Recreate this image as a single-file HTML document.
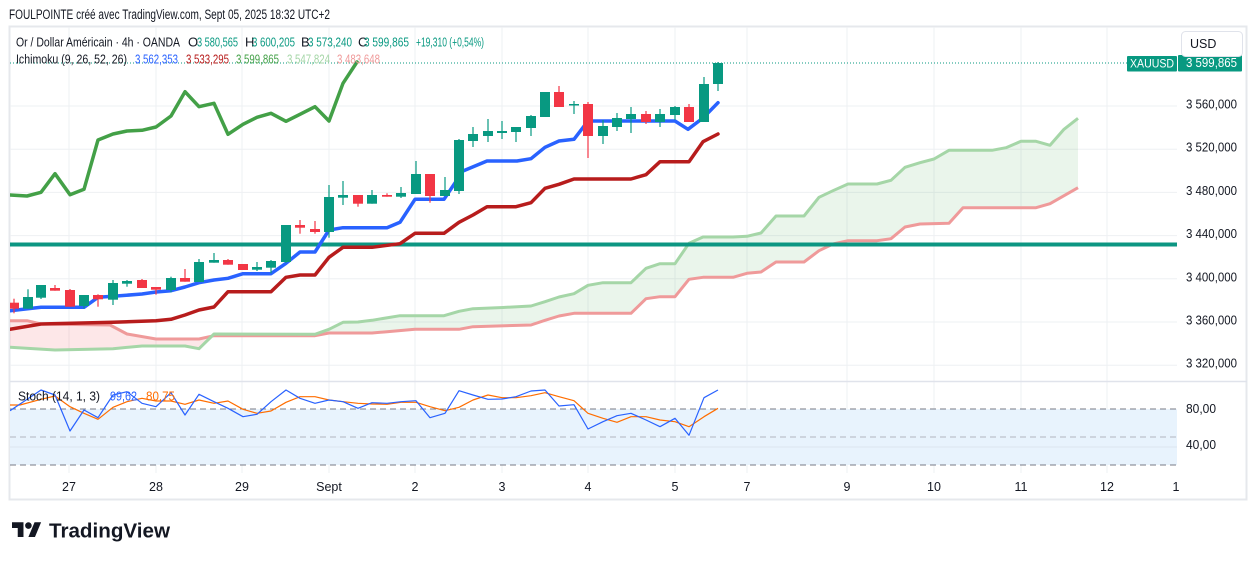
<!DOCTYPE html>
<html>
<head>
<meta charset="utf-8">
<style>
  html,body{margin:0;padding:0;background:#ffffff;}
  svg{display:block;}
  text{font-family:"Liberation Sans", Arial, sans-serif;}
</style>
</head>
<body>
<svg width="1257" height="561" viewBox="0 0 1257 561" xmlns="http://www.w3.org/2000/svg">
  <defs>
    <clipPath id="mainclip"><rect x="10" y="27" width="1167" height="354"/></clipPath>
    <clipPath id="stochclip"><rect x="10" y="382" width="1167" height="91"/></clipPath>
  </defs>
  <rect x="0" y="0" width="1257" height="561" fill="#ffffff"/>

  <!-- title -->
  <text x="9" y="19" font-size="13.5" fill="#131722" textLength="321" lengthAdjust="spacingAndGlyphs">FOULPOINTE créé avec TradingView.com, Sept 05, 2025 18:32 UTC+2</text>

  <!-- frame -->
  <rect x="9.5" y="26.5" width="1237" height="473" fill="none" stroke="#e6e8ec" stroke-width="2"/>

  <!-- vertical grid -->
  <g stroke="#eef0f3" stroke-width="1">
    <line x1="69" y1="27" x2="69" y2="473"/>
    <line x1="156" y1="27" x2="156" y2="473"/>
    <line x1="242" y1="27" x2="242" y2="473"/>
    <line x1="329" y1="27" x2="329" y2="473"/>
    <line x1="415" y1="27" x2="415" y2="473"/>
    <line x1="502" y1="27" x2="502" y2="473"/>
    <line x1="588" y1="27" x2="588" y2="473"/>
    <line x1="675" y1="27" x2="675" y2="473"/>
    <line x1="747" y1="27" x2="747" y2="473"/>
    <line x1="847" y1="27" x2="847" y2="473"/>
    <line x1="934" y1="27" x2="934" y2="473"/>
    <line x1="1021" y1="27" x2="1021" y2="473"/>
    <line x1="1107" y1="27" x2="1107" y2="473"/>
  </g>
  <!-- horizontal grid main -->
  <g stroke="#eef0f3" stroke-width="1">
    <line x1="10" y1="106" x2="1177" y2="106"/>
    <line x1="10" y1="149.2" x2="1177" y2="149.2"/>
    <line x1="10" y1="192.4" x2="1177" y2="192.4"/>
    <line x1="10" y1="235.6" x2="1177" y2="235.6"/>
    <line x1="10" y1="278.8" x2="1177" y2="278.8"/>
    <line x1="10" y1="322" x2="1177" y2="322"/>
    <line x1="10" y1="365.2" x2="1177" y2="365.2"/>
  </g>

  <!-- pane separator -->
  <line x1="10" y1="381.5" x2="1247" y2="381.5" stroke="#e0e3eb" stroke-width="1.5"/>

  <!-- MAIN PANE -->
  <g clip-path="url(#mainclip)">
    <polygon fill="rgba(242,54,69,0.12)" points="10,347.3 55,350 113,348.7 142,346 185,346 199,348.7 212,336 199,339 156,339 127,334 110,325 41,324 27,320.7 10,320.7"/>
    <polygon fill="rgba(67,160,71,0.11)" points="212,336 214,334 315,334.3 329,329.3 343,322.3 358,322 372,320.3 400,315.7 444,315.7 459,311.3 473,308.7 503,307.5 531,306 545,301.7 559,297 574,293.7 588,285.3 603,282.7 631,282.7 646,268.3 660,263.7 675,263.7 689,243.3 703,237 733,237 747,236.3 761,233 776,216 804,216 819,197.3 833,190.7 848,184 877,184 891,180.3 905,167.3 920,162.7 934,159 949,150.3 992,150.3 1006,147.7 1021,141.3 1036,141.3 1050,145.3 1064,129.3 1078,118.3 1078,187.7 1050,203.7 1036,207.7 963,207.7 949,223.3 920,224 905,227 891,238.7 877,240.7 848,240.7 833,244 819,250.7 804,262 776,262 761,272 747,273.3 733,277.3 703,277.3 689,279.3 675,296.7 660,296.7 646,298.7 631,313.3 574,313.3 559,316 545,320.3 531,325 473,326.7 459,329.3 415,329.3 387,331.7 372,333 329,333 315,335.7 214,335.7 212,336"/>
    <polyline fill="none" stroke="#ef9a9a" stroke-width="3" stroke-linejoin="round" points="10,320.7 27,320.7 41,324 110,325 127,334 156,339 199,339 214,335.7 315,335.7 329,333 372,333 387,331.7 415,329.3 459,329.3 473,326.7 531,325 545,320.3 559,316 574,313.3 631,313.3 646,298.7 660,296.7 675,296.7 689,279.3 703,277.3 733,277.3 747,273.3 761,272 776,262 804,262 819,250.7 833,244 848,240.7 877,240.7 891,238.7 905,227 920,224 949,223.3 963,207.7 1036,207.7 1050,203.7 1078,187.7"/>
    <polyline fill="none" stroke="#a5d6a7" stroke-width="3" stroke-linejoin="round" points="10,347.3 55,350 113,348.7 142,346 185,346 199,348.7 214,334 315,334.3 329,329.3 343,322.3 358,322 372,320.3 400,315.7 444,315.7 459,311.3 473,308.7 503,307.5 531,306 545,301.7 559,297 574,293.7 588,285.3 603,282.7 631,282.7 646,268.3 660,263.7 675,263.7 689,243.3 703,237 733,237 747,236.3 761,233 776,216 804,216 819,197.3 833,190.7 848,184 877,184 891,180.3 905,167.3 920,162.7 934,159 949,150.3 992,150.3 1006,147.7 1021,141.3 1036,141.3 1050,145.3 1064,129.3 1078,118.3"/>

    <line x1="10" y1="244.5" x2="1177" y2="244.5" stroke="#0c9682" stroke-width="4"/>

    <polyline fill="none" stroke="#b71c1c" stroke-width="3.5" stroke-linejoin="round" stroke-linecap="round" points="10,329.3 41,324 113,322.3 156,320.7 171,319.3 185,315 199,310 214,307 228,291.7 271,291.7 286,277.3 300,275 315,275 329,257.3 343,247.3 372,247.3 400,243.7 415,233.3 444,233.3 459,222.3 473,215 487,206.7 516,206.7 531,202.7 545,188.3 559,184.3 574,179 631,179 646,174.7 660,161.7 689,161.7 703,141.7 718,134"/>
    <polyline fill="none" stroke="#2962ff" stroke-width="3.5" stroke-linejoin="round" stroke-linecap="round" points="10,310.7 41,307.3 84,307.3 98,297.3 113,296.3 142,294 156,292 171,290.7 185,287 199,282.7 214,280 228,278.3 243,273.7 271,273.7 286,263.3 300,252 315,252 329,230 343,227.7 387,227.7 400,222.3 415,199.3 444,199.3 463,171 487,161 517,161 531,158.7 545,147.3 559,141 574,139.3 588,121 675,121 688,129.3 703,118 718,102.7"/>
    <polyline fill="none" stroke="#43a047" stroke-width="3.5" stroke-linejoin="round" stroke-linecap="round" points="10,195 27,196 41,192.3 55,173.7 70,194.7 84,189.3 98,140 113,134 127,131 142,130.3 156,127 171,116 185,91.7 199,106.7 214,103.3 228,134.3 243,124.3 257,117.3 271,113.3 286,121.3 300,114.3 315,106.7 329,121 343,83.3 357,62"/>

    <line x1="10" y1="63" x2="1127" y2="63" stroke="#089981" stroke-width="1" stroke-dasharray="1,2"/>

    <g stroke-width="1.2">
      <line x1="14" y1="298.7" x2="14" y2="313.3" stroke="#f23645"/>
      <line x1="28" y1="289.3" x2="28" y2="308.7" stroke="#089981"/>
      <line x1="41" y1="285" x2="41" y2="299" stroke="#089981"/>
      <line x1="55" y1="285" x2="55" y2="290.7" stroke="#f23645"/>
      <line x1="70" y1="289" x2="70" y2="306.7" stroke="#f23645"/>
      <line x1="84" y1="295" x2="84" y2="308.3" stroke="#089981"/>
      <line x1="98" y1="294.3" x2="98" y2="306.7" stroke="#f23645"/>
      <line x1="113" y1="280" x2="113" y2="305" stroke="#089981"/>
      <line x1="127" y1="280" x2="127" y2="286.7" stroke="#089981"/>
      <line x1="142" y1="279" x2="142" y2="288" stroke="#f23645"/>
      <line x1="156" y1="287" x2="156" y2="294.7" stroke="#f23645"/>
      <line x1="171" y1="276.7" x2="171" y2="292.3" stroke="#089981"/>
      <line x1="185" y1="269" x2="185" y2="281.7" stroke="#f23645"/>
      <line x1="199" y1="259" x2="199" y2="282" stroke="#089981"/>
      <line x1="214" y1="253" x2="214" y2="262.7" stroke="#089981"/>
      <line x1="228" y1="259" x2="228" y2="264.7" stroke="#f23645"/>
      <line x1="243" y1="264" x2="243" y2="270" stroke="#f23645"/>
      <line x1="257" y1="262" x2="257" y2="271" stroke="#089981"/>
      <line x1="271" y1="260" x2="271" y2="273.3" stroke="#089981"/>
      <line x1="286" y1="225" x2="286" y2="263" stroke="#089981"/>
      <line x1="300" y1="220" x2="300" y2="233.7" stroke="#f23645"/>
      <line x1="315" y1="221" x2="315" y2="233.7" stroke="#f23645"/>
      <line x1="329" y1="185" x2="329" y2="237.7" stroke="#089981"/>
      <line x1="343" y1="181" x2="343" y2="205" stroke="#089981"/>
      <line x1="358" y1="195" x2="358" y2="206.7" stroke="#f23645"/>
      <line x1="372" y1="190" x2="372" y2="203.7" stroke="#089981"/>
      <line x1="387" y1="193.3" x2="387" y2="196.7" stroke="#f23645"/>
      <line x1="401" y1="187" x2="401" y2="198" stroke="#089981"/>
      <line x1="416" y1="161" x2="416" y2="194" stroke="#089981"/>
      <line x1="430" y1="174" x2="430" y2="202.7" stroke="#f23645"/>
      <line x1="445" y1="177" x2="445" y2="196" stroke="#089981"/>
      <line x1="459" y1="139" x2="459" y2="194" stroke="#089981"/>
      <line x1="473" y1="127" x2="473" y2="147" stroke="#089981"/>
      <line x1="488" y1="119" x2="488" y2="142" stroke="#089981"/>
      <line x1="502" y1="121" x2="502" y2="139" stroke="#089981"/>
      <line x1="516" y1="127" x2="516" y2="142" stroke="#089981"/>
      <line x1="531" y1="115" x2="531" y2="136" stroke="#089981"/>
      <line x1="545" y1="92" x2="545" y2="117" stroke="#089981"/>
      <line x1="559" y1="86" x2="559" y2="107" stroke="#f23645"/>
      <line x1="574" y1="101" x2="574" y2="114" stroke="#089981"/>
      <line x1="588" y1="102" x2="588" y2="158" stroke="#f23645"/>
      <line x1="603" y1="120" x2="603" y2="144" stroke="#089981"/>
      <line x1="617" y1="113" x2="617" y2="131" stroke="#089981"/>
      <line x1="631" y1="107" x2="631" y2="133" stroke="#089981"/>
      <line x1="646" y1="111" x2="646" y2="124" stroke="#f23645"/>
      <line x1="660" y1="109" x2="660" y2="127" stroke="#089981"/>
      <line x1="675" y1="106" x2="675" y2="120" stroke="#089981"/>
      <line x1="689" y1="104" x2="689" y2="122" stroke="#f23645"/>
      <line x1="704" y1="77" x2="704" y2="122" stroke="#089981"/>
      <line x1="718" y1="62" x2="718" y2="91" stroke="#089981"/>
    </g>
    <g>
      <rect x="9" y="302.7" width="10" height="6" fill="#f23645"/>
      <rect x="23" y="297" width="10" height="11.7" fill="#089981"/>
      <rect x="36" y="285" width="10" height="12.7" fill="#089981"/>
      <rect x="50" y="288" width="10" height="2.7" fill="#f23645"/>
      <rect x="65" y="290" width="10" height="16.7" fill="#f23645"/>
      <rect x="79" y="295" width="10" height="11" fill="#089981"/>
      <rect x="93" y="295" width="10" height="4.3" fill="#f23645"/>
      <rect x="108" y="283" width="10" height="16.7" fill="#089981"/>
      <rect x="122" y="281" width="10" height="2.7" fill="#089981"/>
      <rect x="137" y="280" width="10" height="8" fill="#f23645"/>
      <rect x="151" y="287" width="10" height="2.7" fill="#f23645"/>
      <rect x="166" y="278" width="10" height="12" fill="#089981"/>
      <rect x="180" y="278" width="10" height="3.7" fill="#f23645"/>
      <rect x="194" y="262" width="10" height="20" fill="#089981"/>
      <rect x="209" y="260" width="10" height="2.7" fill="#089981"/>
      <rect x="223" y="260" width="10" height="4.7" fill="#f23645"/>
      <rect x="238" y="264" width="10" height="6" fill="#f23645"/>
      <rect x="252" y="267" width="10" height="2.7" fill="#089981"/>
      <rect x="266" y="261" width="10" height="6.7" fill="#089981"/>
      <rect x="281" y="225" width="10" height="37" fill="#089981"/>
      <rect x="295" y="225" width="10" height="2.7" fill="#f23645"/>
      <rect x="310" y="229" width="10" height="3" fill="#f23645"/>
      <rect x="324" y="197" width="10" height="35" fill="#089981"/>
      <rect x="338" y="195" width="10" height="2.7" fill="#089981"/>
      <rect x="353" y="195" width="10" height="8.7" fill="#f23645"/>
      <rect x="367" y="195" width="10" height="8.7" fill="#089981"/>
      <rect x="382" y="195" width="10" height="1.7" fill="#f23645"/>
      <rect x="396" y="193" width="10" height="3.7" fill="#089981"/>
      <rect x="411" y="174" width="10" height="20" fill="#089981"/>
      <rect x="425" y="174" width="10" height="22" fill="#f23645"/>
      <rect x="440" y="190" width="10" height="6" fill="#089981"/>
      <rect x="454" y="140" width="10" height="51" fill="#089981"/>
      <rect x="468" y="134" width="10" height="7" fill="#089981"/>
      <rect x="483" y="131" width="10" height="5" fill="#089981"/>
      <rect x="497" y="131" width="10" height="2" fill="#089981"/>
      <rect x="511" y="127" width="10" height="5" fill="#089981"/>
      <rect x="526" y="116" width="10" height="12" fill="#089981"/>
      <rect x="540" y="92" width="10" height="25" fill="#089981"/>
      <rect x="554" y="92" width="10" height="15" fill="#f23645"/>
      <rect x="569" y="104" width="10" height="1.5" fill="#089981"/>
      <rect x="583" y="104" width="10" height="32" fill="#f23645"/>
      <rect x="598" y="126" width="10" height="10" fill="#089981"/>
      <rect x="612" y="118" width="10" height="9" fill="#089981"/>
      <rect x="626" y="114" width="10" height="5" fill="#089981"/>
      <rect x="641" y="114" width="10" height="8" fill="#f23645"/>
      <rect x="655" y="114" width="10" height="8" fill="#089981"/>
      <rect x="670" y="107" width="10" height="8" fill="#089981"/>
      <rect x="684" y="107" width="10" height="15" fill="#f23645"/>
      <rect x="699" y="84" width="10" height="38" fill="#089981"/>
      <rect x="713" y="63" width="10" height="21" fill="#089981"/>
    </g>
  </g>

  <!-- legend -->
  <g font-size="13">
    <text x="16" y="46.5" fill="#131722" textLength="164" lengthAdjust="spacingAndGlyphs">Or / Dollar Américain · 4h · OANDA</text>
    <text x="188" y="46.5" fill="#131722">O</text>
    <text x="197" y="46.5" fill="#089981" textLength="41" lengthAdjust="spacingAndGlyphs">3 580,565</text>
    <text x="245" y="46.5" fill="#131722">H</text>
    <text x="252" y="46.5" fill="#089981" textLength="43" lengthAdjust="spacingAndGlyphs">3 600,205</text>
    <text x="301" y="46.5" fill="#131722">B</text>
    <text x="308" y="46.5" fill="#089981" textLength="44" lengthAdjust="spacingAndGlyphs">3 573,240</text>
    <text x="358" y="46.5" fill="#131722">C</text>
    <text x="364" y="46.5" fill="#089981" textLength="45" lengthAdjust="spacingAndGlyphs">3 599,865</text>
    <text x="416" y="46.5" fill="#089981" textLength="68" lengthAdjust="spacingAndGlyphs">+19,310 (+0,54%)</text>

    <text x="16" y="63.5" fill="#131722" textLength="111" lengthAdjust="spacingAndGlyphs">Ichimoku (9, 26, 52, 26)</text>
    <text x="135" y="63.5" fill="#2962ff" textLength="43" lengthAdjust="spacingAndGlyphs">3 562,353</text>
    <text x="186" y="63.5" fill="#b71c1c" textLength="43" lengthAdjust="spacingAndGlyphs">3 533,295</text>
    <text x="236" y="63.5" fill="#43a047" textLength="43" lengthAdjust="spacingAndGlyphs">3 599,865</text>
    <text x="287" y="63.5" fill="#a5d6a7" textLength="43" lengthAdjust="spacingAndGlyphs">3 547,824</text>
    <text x="337" y="63.5" fill="#ef9a9a" textLength="43" lengthAdjust="spacingAndGlyphs">3 483,648</text>
  </g>

  <!-- STOCH PANE -->
  <rect x="10" y="409" width="1167" height="56" fill="#e8f3fd"/>
  <line x1="10" y1="447" x2="1177" y2="447" stroke="#dde6ef" stroke-width="1"/>
  <line x1="10" y1="409" x2="1177" y2="409" stroke="#787b86" stroke-width="1" stroke-dasharray="6,4"/>
  <line x1="10" y1="437" x2="1177" y2="437" stroke="#b2b5be" stroke-width="1" stroke-dasharray="6,4"/>
  <line x1="10" y1="465" x2="1177" y2="465" stroke="#787b86" stroke-width="1" stroke-dasharray="6,4"/>
  <g clip-path="url(#stochclip)">
    <polyline fill="none" stroke="#ff6d00" stroke-width="1.2" stroke-linejoin="round" points="10,405 20,405 41,399.3 55,396 70,406.7 84,413.3 98,419.3 113,407.3 127,401.7 142,398.3 156,401 171,401 185,404.3 199,400 214,403.3 228,401 243,409.3 257,413.3 271,411 286,402.3 300,396.7 315,396.7 329,400 343,401.7 358,403.3 372,404 387,404.3 401,402.3 416,402.3 430,406.7 445,410.7 459,407.3 473,400 488,395 502,397.7 516,397.7 531,395.7 545,392.7 559,396.7 574,400.7 588,413.3 603,418.3 617,422.3 631,416.7 646,416.7 660,420 675,421.7 689,426.7 704,416.7 718,408.3"/>
    <polyline fill="none" stroke="#2962ff" stroke-width="1.2" stroke-linejoin="round" points="10,410.7 41,390 55,395 70,431 84,410 98,417.7 113,395 127,391.7 142,403.3 156,406.7 171,392.7 185,415 199,394.3 214,401.7 228,408.3 243,416.7 257,414.3 271,401.7 286,390 300,398.3 315,403.3 329,400 343,401.7 358,408.3 372,402.7 387,403.3 401,401.7 416,400.7 430,417.7 445,413.3 459,390.7 473,395 488,399.3 502,399 516,396.7 531,391 545,390 559,406 574,404.7 588,429 603,421.7 617,415.7 631,413.3 646,420 660,426.7 675,418.3 689,435.3 704,397.7 718,390"/>
  </g>
  <g font-size="13">
    <text x="18" y="400.5" fill="#131722" textLength="82" lengthAdjust="spacingAndGlyphs">Stoch (14, 1, 3)</text>
    <text x="110" y="400.5" fill="#2962ff" textLength="27" lengthAdjust="spacingAndGlyphs">99,62</text>
    <text x="146" y="400.5" fill="#ff6d00" textLength="29" lengthAdjust="spacingAndGlyphs">80,75</text>
  </g>

  <!-- price axis labels -->
  <g font-size="12.5" fill="#131722">
    <text x="1186" y="108.5" textLength="51" lengthAdjust="spacingAndGlyphs">3 560,000</text>
    <text x="1186" y="151.7" textLength="51" lengthAdjust="spacingAndGlyphs">3 520,000</text>
    <text x="1186" y="194.9" textLength="51" lengthAdjust="spacingAndGlyphs">3 480,000</text>
    <text x="1186" y="238.1" textLength="51" lengthAdjust="spacingAndGlyphs">3 440,000</text>
    <text x="1186" y="281.3" textLength="51" lengthAdjust="spacingAndGlyphs">3 400,000</text>
    <text x="1186" y="324.5" textLength="51" lengthAdjust="spacingAndGlyphs">3 360,000</text>
    <text x="1186" y="367.7" textLength="51" lengthAdjust="spacingAndGlyphs">3 320,000</text>
    <text x="1186" y="413" textLength="30" lengthAdjust="spacingAndGlyphs">80,00</text>
    <text x="1186" y="449" textLength="30" lengthAdjust="spacingAndGlyphs">40,00</text>
  </g>

  <!-- price labels -->
  <rect x="1127" y="56" width="50" height="15.5" rx="1" fill="#089981"/>
  <text x="1152" y="67.5" font-size="12" fill="#ffffff" text-anchor="middle" textLength="44" lengthAdjust="spacingAndGlyphs">XAUUSD</text>
  <rect x="1178" y="55" width="64" height="16.5" rx="1" fill="#089981"/>
  <text x="1186" y="67" font-size="12.5" fill="#ffffff" textLength="51" lengthAdjust="spacingAndGlyphs">3 599,865</text>
  <rect x="1181.5" y="31.5" width="61" height="25" rx="4" fill="#ffffff" stroke="#e0e3eb" stroke-width="1"/>
  <text x="1190" y="48" font-size="12.5" fill="#131722">USD</text>

  <!-- time axis labels -->
  <g font-size="12.5" fill="#131722" text-anchor="middle">
    <text x="69" y="491">27</text>
    <text x="156" y="491">28</text>
    <text x="242" y="491">29</text>
    <text x="329" y="491">Sept</text>
    <text x="415" y="491">2</text>
    <text x="502" y="491">3</text>
    <text x="588" y="491">4</text>
    <text x="675" y="491">5</text>
    <text x="747" y="491">7</text>
    <text x="847" y="491">9</text>
    <text x="934" y="491">10</text>
    <text x="1021" y="491">11</text>
    <text x="1107" y="491">12</text>
    <text x="1176" y="491">1</text>
  </g>

  <!-- TradingView logo -->
  <g transform="translate(12,519) scale(0.82)" fill="#131722">
    <path d="M14 22H7V11H0V4h14v18z"/>
    <circle cx="20" cy="8" r="4"/>
    <path d="M28 22h-8l7.5-18h8L28 22z"/>
  </g>
  <text x="49" y="537.5" font-size="20" font-weight="bold" fill="#131722" textLength="121" lengthAdjust="spacingAndGlyphs">TradingView</text>
</svg>
</body>
</html>
